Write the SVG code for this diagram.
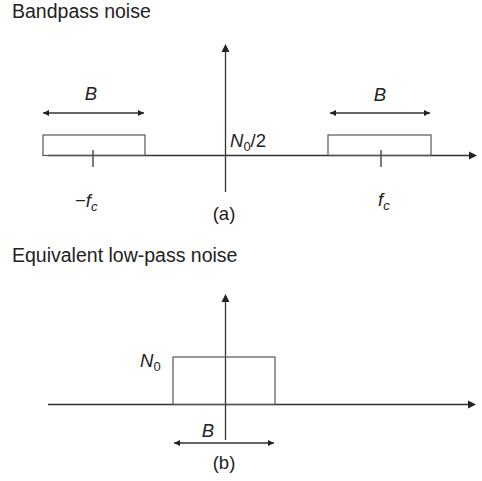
<svg xmlns="http://www.w3.org/2000/svg" width="482" height="481" viewBox="0 0 482 481">
<style>
text{font-family:"Liberation Sans",Arial,Helvetica,sans-serif;fill:#222;}
.title{font-size:19.5px;}
.lbl{font-size:18.5px;}
.it{font-style:italic;}
.sub{font-size:13px;}
.axis{stroke:#333;stroke-width:1.3;fill:none;}
.box{stroke:#555;stroke-width:1.2;fill:none;}
.dim{stroke:#333;stroke-width:1.3;fill:none;marker-start:url(#ah);marker-end:url(#ah);}
.tick{stroke:#333;stroke-width:1.3;}
</style>
<defs>
<marker id="ah" viewBox="0 0 10 10" refX="10" refY="5" markerWidth="8" markerHeight="6" markerUnits="userSpaceOnUse" orient="auto-start-reverse">
<path d="M0,0 L10,5 L0,10 Z" fill="#222"/>
</marker>
</defs>
<rect width="482" height="481" fill="#fff"/>
<g id="titles">
<text class="title" x="12" y="18">Bandpass noise</text>
<text class="title" x="12" y="262">Equivalent low-pass noise</text>
</g>
<g id="connectors">
<line class="axis" x1="48" y1="155.5" x2="469" y2="155.5"/>
<path d="M469,151.5 L477,155.5 L469,159.5 Z" fill="#222"/>
<line class="axis" x1="225.5" y1="192" x2="225.5" y2="52"/>
<path d="M221.5,52 L225.5,44 L229.5,52 Z" fill="#222"/>
<line class="tick" x1="93" y1="150" x2="93" y2="167"/>
<line class="tick" x1="381" y1="150" x2="381" y2="167"/>
<line class="dim" x1="43" y1="113" x2="144" y2="113"/>
<line class="dim" x1="330" y1="113" x2="430" y2="113"/>
<line class="axis" x1="48" y1="404.5" x2="468" y2="404.5"/>
<path d="M468,400.5 L476,404.5 L468,408.5 Z" fill="#222"/>
<line class="axis" x1="225.5" y1="440" x2="225.5" y2="302"/>
<path d="M221.5,302 L225.5,294 L229.5,302 Z" fill="#222"/>
<line class="dim" x1="174" y1="443" x2="274" y2="443"/>
</g>
<g id="band-neg">
<rect class="box" x="43" y="135" width="102" height="20.5"/>
<text class="lbl it" x="91" y="100" text-anchor="middle">B</text>
<text class="lbl" x="75" y="207">−<tspan class="it">f</tspan><tspan class="sub it" dy="4">c</tspan></text>
</g>
<g id="band-pos">
<rect class="box" x="328" y="135" width="103" height="20.5"/>
<text class="lbl it" x="380" y="101" text-anchor="middle">B</text>
<text class="lbl it" x="378" y="206">f<tspan class="sub" dy="4">c</tspan></text>
</g>
<g id="level-a">
<text class="lbl" x="230" y="147"><tspan class="it">N</tspan><tspan class="sub" dy="4">0</tspan><tspan dy="-4">/2</tspan></text>
<text class="lbl" x="224" y="220" text-anchor="middle">(a)</text>
</g>
<g id="lowpass">
<rect class="box" x="173" y="357" width="102" height="47.5"/>
<text class="lbl" x="140" y="367"><tspan class="it">N</tspan><tspan class="sub" dy="4">0</tspan></text>
<text class="lbl it" x="208" y="437" text-anchor="middle">B</text>
<text class="lbl" x="224" y="469" text-anchor="middle">(b)</text>
</g>
</svg>
